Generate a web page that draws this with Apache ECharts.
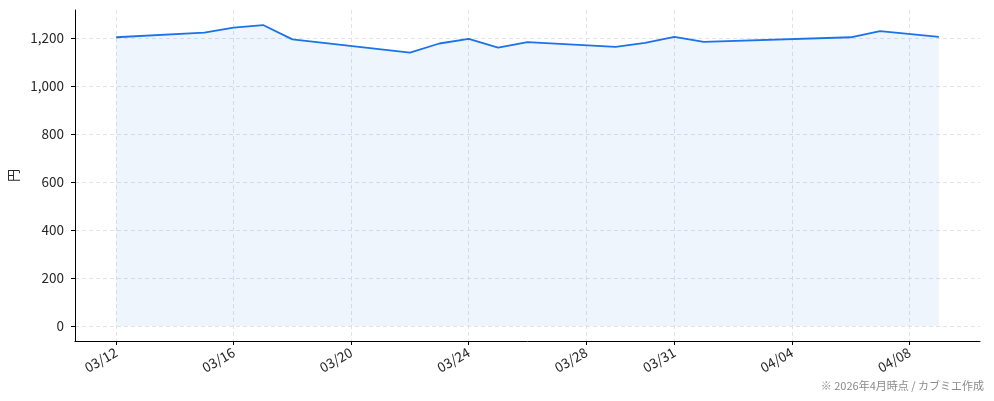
<!DOCTYPE html>
<html>
<head>
<meta charset="utf-8">
<script src="https://cdn.jsdelivr.net/npm/echarts@6/dist/echarts.min.js"></script>
<style>
  html, body { margin: 0; padding: 0; background: #fff; }
  #chart { width: 994px; height: 401px; }
</style>
</head>
<body>
<div id="chart"></div>
<script>
// daily closing price (yen)
var dates = ['03/12', '03/15', '03/16', '03/17', '03/18', '03/22', '03/23', '03/24', '03/25',
             '03/26', '03/29', '03/30', '03/31', '04/01', '04/06', '04/07', '04/09'];
var prices = [1204, 1223, 1244, 1255, 1195, 1140, 1178, 1197, 1161,
              1184, 1164, 1181, 1206, 1185, 1204, 1230, 1206];
var xTicks = ['03/12', '03/16', '03/20', '03/24', '03/28', '03/31', '04/04', '04/08'];
var yTicks = [0, 200, 400, 600, 800, 1000, 1200];

var YEAR = 2026;
function ts(md) {
  var p = md.split('/');
  return new Date(YEAR, +p[0] - 1, +p[1]).getTime();
}
function pad(n) { return n < 10 ? '0' + n : '' + n; }

var first = ts(dates[0]), last = ts(dates[dates.length - 1]);
var xPad = (last - first) * 0.05;
var yPad = (Math.max.apply(null, prices) - 0) * 0.05;

var font = '"Noto Sans CJK JP", "Noto Sans", sans-serif';
var lineColor = '#1a73e8';

var chart = echarts.init(document.getElementById('chart'));
chart.setOption({
  animation: false,
  textStyle: { fontFamily: font },
  grid: { left: 75, right: 14, top: 10, bottom: 60, outerBoundsMode: 'none' },
  xAxis: {
    type: 'value',
    min: first - xPad,
    max: last + xPad,
    axisLine: { onZero: false, lineStyle: { color: '#000', width: 1 } },
    axisTick: {
      show: true, length: 4, inside: false,
      lineStyle: { color: '#000' },
      customValues: xTicks.map(ts)
    },
    axisLabel: {
      rotate: 30, fontSize: 13.5, color: '#262626', margin: 10,
      customValues: xTicks.map(ts),
      formatter: function (v) {
        var d = new Date(v);
        return pad(d.getMonth() + 1) + '/' + pad(d.getDate());
      }
    },
    splitLine: { show: true, lineStyle: { color: '#e2e2e8', type: [4, 3] } }
  },
  yAxis: {
    type: 'value',
    min: -yPad,
    max: Math.max.apply(null, prices) + yPad,
    name: '円',
    nameLocation: 'middle',
    nameRotate: 90,
    nameGap: 53,
    nameTextStyle: { fontSize: 13, color: '#262626' },
    axisLine: { show: true, lineStyle: { color: '#000', width: 1 } },
    axisTick: {
      show: true, length: 4,
      lineStyle: { color: '#000' },
      customValues: yTicks
    },
    axisLabel: {
      fontSize: 13.5, color: '#262626', margin: 11,
      customValues: yTicks,
      formatter: function (v) { return v.toLocaleString('en-US'); }
    },
    splitLine: { show: true, lineStyle: { color: '#e2e2e8', type: [4, 3] } }
  },
  series: [{
    type: 'line',
    data: dates.map(function (d, i) { return [ts(d), prices[i]]; }),
    symbol: 'none',
    lineStyle: { color: lineColor, width: 1.8 },
    areaStyle: { color: 'rgba(26,115,232,0.1)', origin: 0 }
  }],
  graphic: [{
    type: 'text',
    right: 10,
    bottom: 10,
    style: {
      text: '※ 2026年4月時点 / カブミエ作成',
      fontSize: 11,
      fill: '#8a8a8a',
      fontFamily: font
    }
  }]
});
</script>
</body>
</html>
